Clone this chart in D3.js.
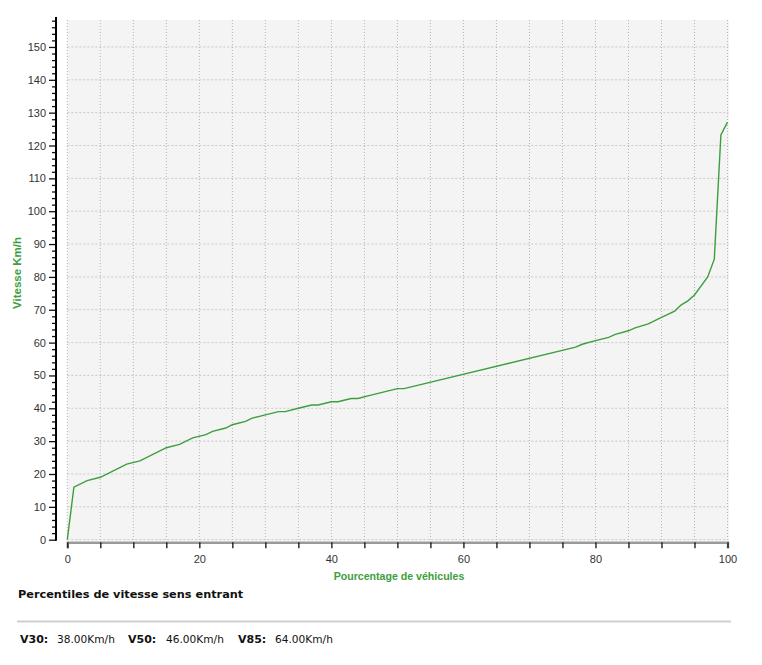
<!DOCTYPE html>
<html>
<head>
<meta charset="utf-8">
<script src="https://cdn.jsdelivr.net/npm/d3@7"></script>
<style>
body{margin:0;background:#fff;}
</style>
</head>
<body>
<svg id="chart" width="762" height="665"></svg>
<script>
const percents = [0,1,3,5,9,11,15,17,19,21,22,24,25,27,28,30,32,33,35,37,38,40,41,43,44,46,48,50,51,77,78,80,82,83,85,86,88,90,92,93,94,95,97,98,99,100];
const speeds   = [0,16,18,19,23,24,28,29,31,32,33,34,35,36,37,38,39,39,40,41,41,42,42,43,43,44,45,46,46,58.6,59.5,60.6,61.6,62.5,63.6,64.5,65.7,67.7,69.6,71.5,72.7,74.5,80,85.4,123.2,127.1];
const yMajorTicks = [0,10,20,30,40,50,60,70,80,90,100,110,120,130,140,150];
const xMajorTicks = [0,20,40,60,80,100];
const xLabel = "Pourcentage de véhicules";
const yLabel = "Vitesse Km/h";
const title = "Percentiles de vitesse sens entrant";
const summaryNames = ["V30:","V50:","V85:"];
const summaryValues = ["38.00Km/h","46.00Km/h","64.00Km/h"];

const svg = d3.select("#chart");
const green = "#3d9e3d";
const x = d3.scaleLinear().domain([0,100]).range([67.3,727.5]);
const y = d3.scaleLinear().domain([0,159]).range([539.7,17.4]);

// plot background
svg.append("rect").attr("x",x(0)).attr("y",20).attr("width",x(100)-x(0)+1.5).attr("height",y(0)-20+1)
  .attr("fill","#f4f4f4");

// horizontal dashed grid
svg.append("g").selectAll("line").data(yMajorTicks).join("line")
  .attr("x1",x(0)).attr("x2",x(100)+1)
  .attr("y1",d=>y(d)).attr("y2",d=>y(d))
  .attr("stroke","#c8c8c8").attr("stroke-width",1).attr("stroke-dasharray","2,2");

// vertical dotted grid
svg.append("g").selectAll("line").data(d3.range(0,101,5)).join("line")
  .attr("x1",d=>x(d)).attr("x2",d=>x(d))
  .attr("y1",20).attr("y2",y(0))
  .attr("stroke","#b4b4b4").attr("stroke-width",1).attr("stroke-dasharray","1,2");

// x axis
const xAxis = d3.axisBottom(x).tickValues(d3.range(0,101,5)).tickSize(6)
  .tickFormat(d=> xMajorTicks.includes(d) ? d : "");
const gx = svg.append("g").attr("transform",`translate(0,${y(0)+2.6})`).call(xAxis);
gx.select(".domain").attr("stroke","#9a9a9a").attr("stroke-width",2.5);
gx.selectAll(".tick line").attr("stroke","#111").attr("stroke-width",1.3);
gx.selectAll(".tick text").attr("font-family","Liberation Sans, Arial, sans-serif").attr("font-size",11).attr("fill","#333").attr("dy","1.1em");

// y axis major
const yAxis = d3.axisLeft(y).tickValues(yMajorTicks).tickSize(7).tickPadding(3);
const gy = svg.append("g").attr("transform","translate(56,0)").call(yAxis);
gy.select(".domain").remove();
gy.selectAll(".tick line").attr("stroke","#111").attr("stroke-width",1.3);
gy.selectAll(".tick text").attr("font-family","Liberation Sans, Arial, sans-serif").attr("font-size",11).attr("fill","#333");
// y minor ticks
const yMinor = d3.axisLeft(y).tickValues(d3.range(0,159,2).filter(d=>d%10!==0)).tickSize(4).tickFormat("");
const gym = svg.append("g").attr("transform","translate(56,0)").call(yMinor);
gym.select(".domain").remove();
gym.selectAll(".tick line").attr("stroke","#111").attr("stroke-width",1.3);
svg.append("line").attr("x1",56).attr("x2",56).attr("y1",17).attr("y2",y(0)+1)
  .attr("stroke","#000").attr("stroke-width",2);

// curve
const data = percents.map((p,i)=>({p, v:speeds[i]}));
svg.append("path").datum(data)
  .attr("fill","none").attr("stroke",green).attr("stroke-width",1.4)
  .attr("d", d3.line().x(d=>x(d.p)).y(d=>y(d.v)));

// axis labels
svg.append("text").attr("x",399).attr("y",580)
  .attr("text-anchor","middle").attr("font-family","Liberation Sans, Arial, sans-serif")
  .attr("font-size",10.6).attr("font-weight","bold").attr("fill",green).text(xLabel);
svg.append("text").attr("transform","translate(21,273) rotate(-90)")
  .attr("text-anchor","middle").attr("font-family","Liberation Sans, Arial, sans-serif")
  .attr("font-size",11.5).attr("font-weight","bold").attr("fill",green).text(yLabel);

// title
svg.append("text").attr("x",18).attr("y",598)
  .attr("font-family","DejaVu Sans, Verdana, sans-serif").attr("font-size",11.3)
  .attr("font-weight","bold").attr("fill","#111").text(title);
svg.append("line").attr("x1",17).attr("x2",731).attr("y1",621.5).attr("y2",621.5)
  .attr("stroke","#cfcfcf").attr("stroke-width",2);

// summary
const lx = [20,128,238];
const vx = [57,166,275];
summaryNames.forEach((n,i)=>{
  svg.append("text").attr("x",lx[i]).attr("y",643)
    .attr("font-family","DejaVu Sans, Verdana, sans-serif").attr("font-size",11)
    .attr("font-weight","bold").attr("fill","#111").text(n);
  svg.append("text").attr("x",vx[i]).attr("y",643)
    .attr("font-family","DejaVu Sans, Verdana, sans-serif").attr("font-size",10.6)
    .attr("fill","#111").text(summaryValues[i]);
});
</script>
</body>
</html>
